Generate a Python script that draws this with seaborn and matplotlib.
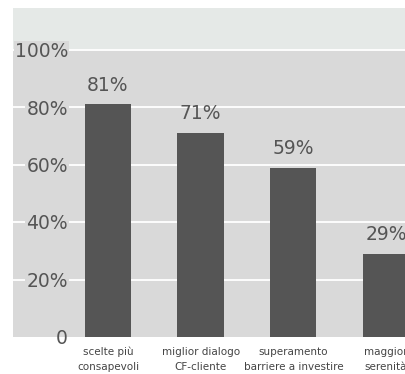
import matplotlib
matplotlib.use("Agg")
import matplotlib.pyplot as plt
import matplotlib.transforms as mtransforms
import seaborn as sns
import pandas as pd

categories = ["scelte più\nconsapevoli", "miglior dialogo\nCF-cliente",
              "superamento\nbarriere a investire", "maggior\nserenità"]
values = [81, 71, 59, 29]
y_ticks = [0, 20, 40, 60, 80, 100]
y_tick_labels = ["0", "20%", "40%", "60%", "80%", "100%"]

df = pd.DataFrame({"categoria": categories, "valore": values})

sns.set_theme(style="white")
plt.rcParams["font.family"] = ["DejaVu Sans"]

BG = "#d9d9d9"
BAND = "#e5e9e7"
BAR = "#555555"
TXT = "#555555"

fig = plt.figure(figsize=(4.05, 3.74), dpi=100)
ax = fig.add_axes([13 / 405, 37 / 374, 1 - 13 / 405, (337 - 8) / 374])
ax.set_facecolor(BG)

# lighter band above the 100% line
ax.axhspan(100, 120, color=BAND, zorder=0, lw=0)

for t in y_ticks[1:]:
    ax.axhline(t, color="white", lw=1.3, zorder=1)

sns.barplot(data=df, x="categoria", y="valore", color=BAR, saturation=1,
            width=0.5, ax=ax, zorder=2, edgecolor=BAR, linewidth=0)

for cont in ax.containers:
    ax.bar_label(cont, labels=[f"{v}%" for v in values], padding=7,
                 fontsize=13.5, color=TXT)

ax.set_xlim(-1.025, 3.205)
ax.set_ylim(0, 114.6)

# y labels sit inside the plot area, masking the grid lines behind them
ax.set_yticks(y_ticks)
ax.set_yticklabels([])
ax.tick_params(axis="y", length=0)
trans = mtransforms.blended_transform_factory(ax.transAxes, ax.transData)
for t, lab in zip(y_ticks, y_tick_labels):
    box = None if t == 0 else dict(facecolor=BG, edgecolor="none", pad=0.8)
    ax.text((68 - 13) / 392, t - 0.6, lab, transform=trans, ha="right",
            va="center", fontsize=13.5, color=TXT, bbox=box, zorder=3,
            clip_on=False)

ax.tick_params(axis="x", length=0, pad=7, labelsize=7.5, labelcolor="#444444")
for lbl in ax.get_xticklabels():
    lbl.set_linespacing(1.6)

ax.set_xlabel("")
ax.set_ylabel("")
for s in ax.spines.values():
    s.set_visible(False)

fig.savefig("out.png", dpi=100, facecolor="white")
